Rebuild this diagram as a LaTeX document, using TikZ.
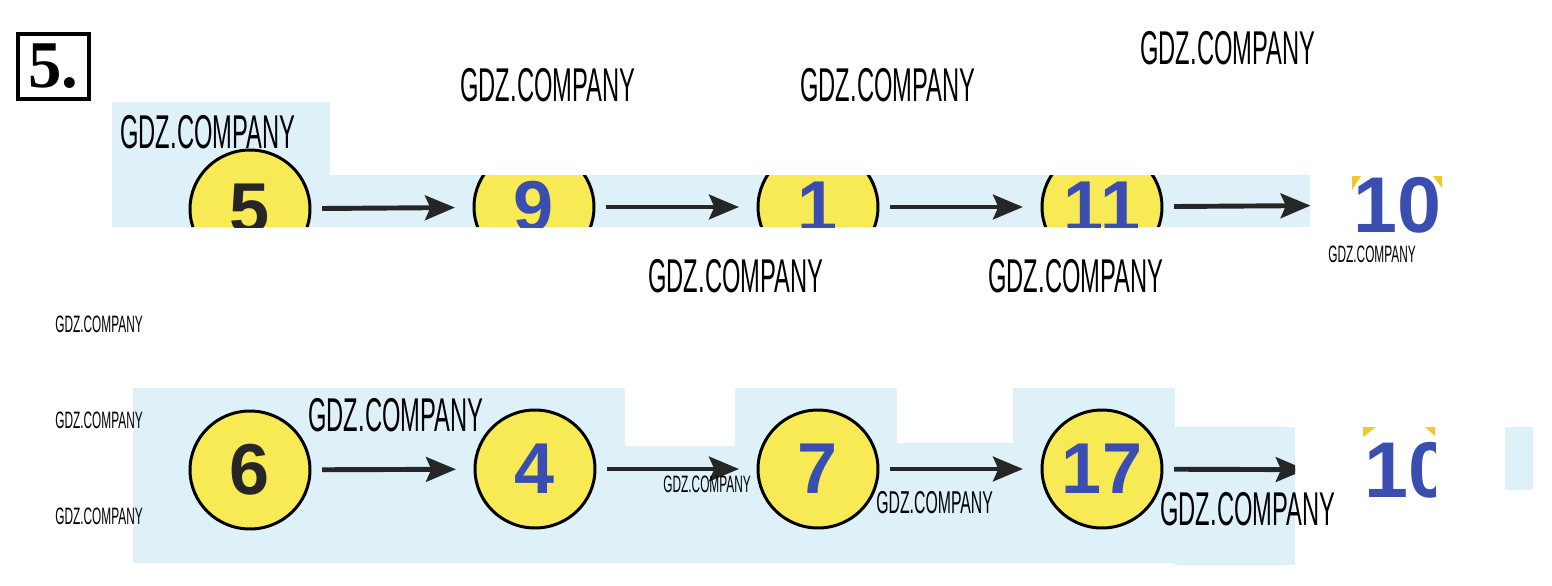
\documentclass[tikz,border=0pt]{standalone}
\usepackage{fontspec}
\setmainfont{Liberation Serif}
\newfontfamily\numf{Liberation Sans}
\usetikzlibrary{shapes.geometric,arrows.meta}
\definecolor{bgblue}{RGB}{222,240,248}
\definecolor{eyellow}{RGB}{247,234,84}
\definecolor{cornery}{RGB}{240,200,40}
\definecolor{numblue}{RGB}{58,78,178}
\definecolor{arrgray}{RGB}{38,38,38}
\newcommand{\wmtext}{\scalebox{0.5}[1]{GDZ.COMPANY}}
\begin{document}
\begin{tikzpicture}[x=0.02cm,y=-0.02cm,
  circ/.style={ellipse,draw=black,line width=1.7pt,fill=eyellow,minimum width=2.4cm,minimum height=2.36cm,inner sep=0pt,font=\numf\bfseries\fontsize{41}{41}\selectfont,text=numblue},
  plainnum/.style={inner sep=0pt,font=\numf\bfseries\fontsize{45}{45}\selectfont,text=numblue},
  arr/.style={-{Stealth[length=17pt,width=14pt,inset=3pt]},line width=2.8pt,draw=arrgray,shorten <=6pt,shorten >=10pt},
  wmL/.style={inner sep=0pt,anchor=west,font=\numf\fontsize{27}{27}\selectfont},
  wmM/.style={inner sep=0pt,anchor=west,font=\numf\fontsize{18}{18}\selectfont},
  wmS/.style={inner sep=0pt,anchor=west,font=\numf\fontsize{13.5}{13.5}\selectfont}]
\useasboundingbox (0,0) rectangle (1552,585);

% task number
\node[draw=black,line width=2.3pt,minimum width=1.42cm,minimum height=1.3cm,inner sep=0pt,font=\bfseries\fontsize{38}{38}\selectfont] (num) at (53.5,66.5) {5.};

% row 1 backgrounds
\fill[bgblue] (112,102) rectangle (330,227);
\fill[bgblue] (190,175) rectangle (1310,227);
\fill[cornery] (1352,176) -- (1361,176) -- (1352,190) -- cycle;
\fill[cornery] (1433,176) -- (1442,176) -- (1442,188) -- cycle;

\begin{scope}
\clip (112,102) rectangle (330,227) (190,175) rectangle (1310,227) (1345,175) rectangle (1450,240);
\node[circ,text=black!85] (a1) at (250,209) {5};
\node[circ] (a2) at (534,207) {9};
\node[circ] (a3) at (818,207) {1};
\node[circ] (a4) at (1102,207) {11};
\node[plainnum] (a5) at (1397,205) {10};
\draw[arr] (a1) -- (a2);
\draw[arr] (a2) -- (a3);
\draw[arr] (a3) -- (a4);
\draw[arr,shorten >=24pt] (a4) -- (a5);
\end{scope}

% row 2 backgrounds
\fill[bgblue] (133,388) rectangle (1175,563);
\fill[bgblue] (1175,427) rectangle (1295,565);
\fill[bgblue] (1505,427) rectangle (1533,490);
\fill[white] (625,388) rectangle (735,446);
\fill[white] (897,388) rectangle (1013,443);
\fill[cornery] (1363,427) -- (1376,427) -- (1363,437) -- cycle;
\fill[cornery] (1425,427) -- (1435,427) -- (1435,436) -- cycle;

\begin{scope}
\clip (133,388) rectangle (1175,563) (1175,427) rectangle (1295,565) (1355,427) rectangle (1435,500);
\node[circ,text=black!85] (b1) at (250,470) {6};
\node[circ] (b2) at (535,469) {4};
\node[circ] (b3) at (818,469) {7};
\node[circ] (b4) at (1102,469) {17};
\node[plainnum] (b5) at (1408,470) {10};
\draw[arr] (b1) -- (b2);
\draw[arr] (b2) -- (b3);
\draw[arr] (b3) -- (b4);
\draw[arr,shorten >=33pt] (b4) -- (b5);
\end{scope}

% watermarks
\node[wmL] (w1) at (460,85) {\wmtext};
\node[wmL] (w2) at (800,85) {\wmtext};
\node[wmL] (w3) at (1140,48) {\wmtext};
\node[wmL] (w4) at (120,132) {\wmtext};
\node[wmL] (w5) at (648,276) {\wmtext};
\node[wmL] (w6) at (988,276) {\wmtext};
\node[wmS] (w7) at (1328,254) {\wmtext};
\node[wmS] (w8) at (55,324) {\wmtext};
\node[wmS] (w9) at (55,420) {\wmtext};
\node[wmS] (w10) at (55,516) {\wmtext};
\node[wmL] (w11) at (308,415) {\wmtext};
\node[wmS] (w12) at (663,484) {\wmtext};
\node[wmM] (w13) at (876,503) {\wmtext};
\node[wmL] (w14) at (1160,509) {\wmtext};
\end{tikzpicture}
\end{document}
